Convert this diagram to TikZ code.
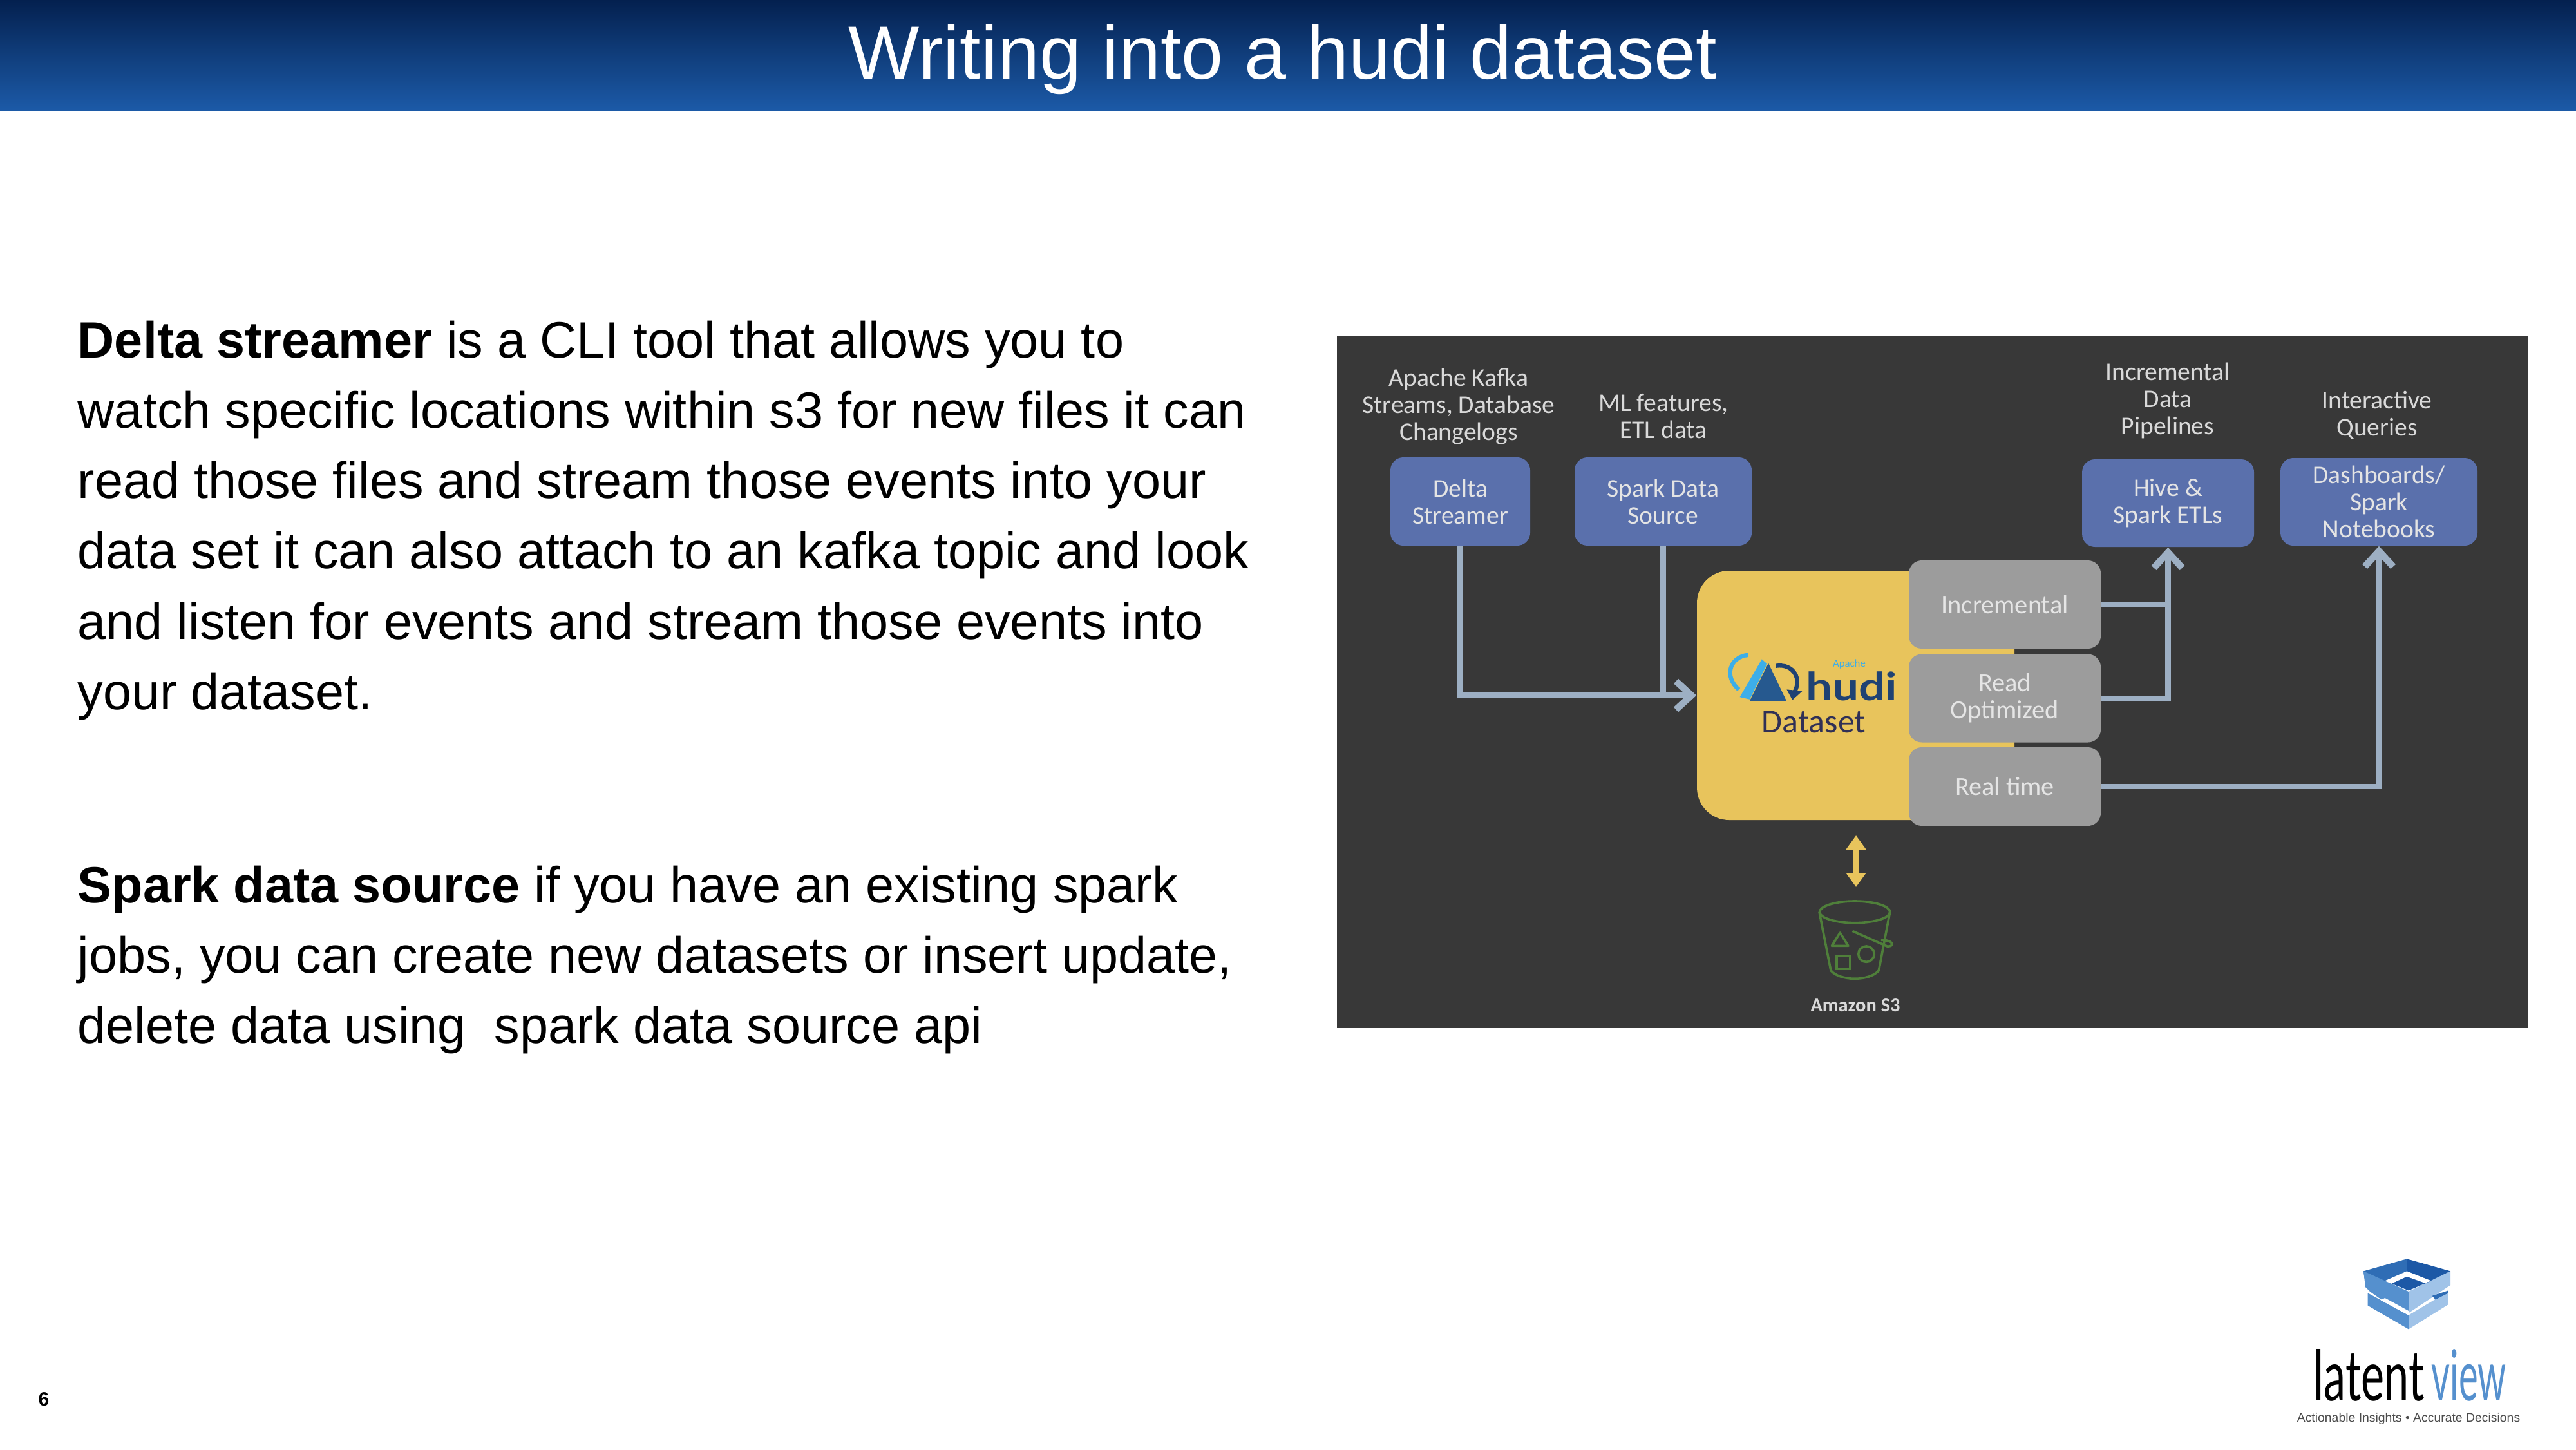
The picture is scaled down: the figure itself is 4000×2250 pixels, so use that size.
\documentclass[tikz,border=0pt]{standalone}
\usepackage{fontspec}
\usepackage{graphicx}
\setmainfont{Liberation Sans}
\newfontfamily\figfont{Carlito}
\newfontfamily\logofont{Lato}
\usetikzlibrary{arrows.meta,calc}
\definecolor{darkbg}{HTML}{383838}
\definecolor{bluebox}{HTML}{5A70AC}
\definecolor{greybox}{HTML}{9C9C9C}
\definecolor{hudiyellow}{HTML}{E8C45C}
\definecolor{flowline}{HTML}{9DAFC3}
\definecolor{figtext}{HTML}{D9D9D9}
\definecolor{s3green}{HTML}{4F7F3A}
\definecolor{hudidark}{HTML}{1F4273}
\definecolor{hudimid}{HTML}{26598F}
\definecolor{hudicyan}{HTML}{3DAEE8}
\definecolor{logoa}{HTML}{2F6DB5}
\definecolor{logob}{HTML}{5590CE}
\definecolor{logoc}{HTML}{A0C3E8}
\definecolor{logod}{HTML}{1C58A6}
\definecolor{headtop}{HTML}{04204F}
\definecolor{headmid}{HTML}{103E7C}
\definecolor{headbot}{HTML}{1C5AA8}
\tikzset{
  x=0.25pt,y=-0.25pt,
  bodytext/.style={anchor=north west,inner sep=0pt,align=left,text=black,font=\fontsize{19.8}{27.3}\selectfont},
  figlabel/.style={inner sep=0pt,align=center,text=figtext,font=\figfont\fontsize{9.9}{10.5}\selectfont},
  blueboxst/.style={fill=bluebox,rounded corners=5pt,inner sep=0pt,align=center,text=figtext!70!white,font=\figfont\fontsize{9.9}{10.5}\selectfont},
  greyboxst/.style={fill=greybox,rounded corners=5pt,inner sep=0pt,align=center,text=white!90!black,font=\figfont\fontsize{10.1}{10.5}\selectfont},
  flow/.style={draw=flowline,line width=2.1pt},
  flowtip/.style={flow,-{Straight Barb[length=6pt,width=11pt,line width=2.6pt]}},
  s3line/.style={draw=s3green,line width=0.9pt},
}
\begin{document}
\begin{tikzpicture}
\useasboundingbox (0,0) rectangle (4000,2250);
\fill[white] (0,0) rectangle (4000,2250);
% header
\shade[top color=headtop,bottom color=headbot,middle color=headmid] (0,0) rectangle (4000,172);
\node[inner sep=0pt,text=white,font=\fontsize{29.2}{34}\selectfont] (title) at (1992,92) {Writing into a hudi dataset};
% body
\node[bodytext] (para1) at (120,497) {\textbf{Delta streamer} is a CLI tool that allows you to\\watch specific locations within s3 for new files it can\\read those files and stream those events into your\\data set it can also attach to an kafka topic and look\\and listen for events and stream those events into\\your dataset.};
\node[bodytext] (para2) at (120,1343) {\textbf{Spark data source} if you have an existing spark\\jobs, you can create new datasets or insert update,\\delete data using\ \ spark data source api};
\node[inner sep=0pt,font=\bfseries\fontsize{7.5}{9}\selectfont] (page) at (68,2172) {6};
% figure
\fill[darkbg] (2076,521) rectangle (3925,1596);
\node[fill=hudiyellow,rounded corners=12.5pt,minimum width=123.25pt,minimum height=96.75pt,inner sep=0pt] (hudi) at (2881.5,1079.5) {};
\node[greyboxst,minimum width=74.5pt,minimum height=34.25pt] (inc) at (3113,938.5) {Incremental};
\node[greyboxst,minimum width=74.5pt,minimum height=34.25pt] (read) at (3113,1084) {Read\\Optimized};
\node[greyboxst,minimum width=74.5pt,minimum height=30.5pt] (real) at (3113,1221) {Real time};
\node[blueboxst,minimum width=54.25pt,minimum height=34.25pt] (delta) at (2267.5,778.5) {Delta\\Streamer};
\node[blueboxst,minimum width=68.75pt,minimum height=34.25pt] (spark) at (2582.5,778.5) {Spark Data\\Source};
\node[blueboxst,minimum width=66.75pt,minimum height=34pt] (hive) at (3366.5,781) {Hive \&\\Spark ETLs};
\node[blueboxst,minimum width=76.5pt,minimum height=34pt] (dash) at (3694,779) {Dashboards/\\Spark\\Notebooks};
\node[figlabel] (l1) at (2265,631) {Apache Kafka\\Streams, Database\\Changelogs};
\node[figlabel] (l2) at (2583,646) {ML features,\\ETL data};
\node[figlabel] (l3) at (3366,622) {Incremental\\Data\\Pipelines};
\node[figlabel] (l4) at (3691,644) {Interactive\\Queries};
\node[inner sep=0pt,text=figtext,font=\figfont\bfseries\fontsize{7.6}{9}\selectfont] (s3label) at (2881,1561) {Amazon S3};
% connectors
\draw[flowtip] (delta.south) |- (hudi.west);
\draw[flow] (spark.south) -- (spark.south |- hudi.west);
\draw[flow] (inc.east) -- (inc.east -| hive.south);
\draw[flowtip] (read.east) -| (hive.south);
\draw[flowtip] (real.east) -| (dash.south);
\coordinate (dtop) at (2882,1297);
\coordinate (dbot) at (2882,1377);
\draw[hudiyellow,line width=2.6pt,{Triangle[length=5.5pt,width=7.5pt]}-{Triangle[length=5.5pt,width=7.5pt]}] (dtop) -- (dbot);
% hudi logo
\begin{scope}[shift={(2500,800)},x=0.12755pt,y=-0.12755pt]
\fill[hudicyan] (395,553) -- (462,438) -- (478,452) -- (425,560) -- cycle;
\fill[hudimid] (425,565) -- (482,450) -- (537,565) -- cycle;
\draw[hudicyan,line width=1.6pt] (392,530) .. controls (345,490) and (365,430) .. (420,425);
\draw[hudidark,line width=1.6pt] (505,458) .. controls (560,450) and (585,500) .. (560,540);
\fill[hudidark] (538,530) -- (585,535) -- (555,562) -- cycle;
\node[inner sep=0pt,anchor=south west] (huditxt) at (595,566) {\resizebox{35.5pt}{11.2pt}{\logofont\bfseries\color{hudidark}hudi}};
\node[inner sep=0pt,text=hudicyan,font=\figfont\fontsize{4.2}{5}\selectfont] (apache) at (728,452) {Apache};
\node[inner sep=0pt,text=darkbg!85!blue,font=\figfont\fontsize{13}{14}\selectfont] (dataset) at (620,630) {Dataset};
% bucket
\draw[s3line] (745,1207) ellipse [x radius=107,y radius=33];
\draw[s3line,line join=round] (637,1207) -- (672,1385) .. controls (700,1418) and (790,1418) .. (818,1385) -- (852,1207);
\draw[s3line,line join=round] (700,1270) -- (675,1310) -- (725,1310) -- cycle;
\draw[s3line] (690,1340) rectangle (730,1380);
\draw[s3line] (780,1335) circle [radius=24];
\draw[s3line] (738,1265) -- (845,1312) .. controls (870,1310) and (860,1292) .. (825,1292);
\end{scope}
% company logo
\begin{scope}[shift={(3500,1920)},x=0.08333pt,y=-0.08333pt]
\fill[logoa] (510,160) -- (712,103) -- (712,165) -- (610,205) -- (640,225) -- (520,235) -- cycle;
\fill[logod] (712,103) -- (915,160) -- (825,205) -- (712,165) -- cycle;
\fill[logob] (510,160) -- (610,205) -- (720,255) -- (720,355) -- (590,290) -- (540,255) -- (520,235) -- cycle;
\fill[logoc] (915,160) -- (915,225) -- (720,355) -- (720,255) -- cycle;
\fill[logod] (610,205) -- (712,165) -- (825,205) -- (720,250) -- cycle;
\fill[white] (610,205) -- (712,160) -- (825,205) -- (795,215) -- (712,185) -- (640,218) -- cycle;
\fill[logob] (530,262) -- (720,365) -- (720,430) -- (530,320) -- cycle;
\fill[logoc] (720,365) -- (905,255) -- (905,315) -- (720,430) -- cycle;
\fill[logoa] (830,275) -- (905,250) -- (905,262) -- (845,292) -- cycle;
\fill[white] (590,295) -- (610,285) -- (720,345) -- (720,365) -- cycle;
\node[inner sep=0pt,anchor=south west] (lv1) at (275,768) {\resizebox{43pt}{20pt}{\logofont\color{black}latent}};
\node[inner sep=0pt,anchor=south west] (lv2) at (825,768) {\resizebox{29pt}{20pt}{\logofont\color{logob}view}};
\node[inner sep=0pt,text=black!70,font=\fontsize{4.85}{5}\selectfont] (tag) at (720,848) {Actionable Insights \textbullet\ Accurate Decisions};
\end{scope}
\end{tikzpicture}
\end{document}
